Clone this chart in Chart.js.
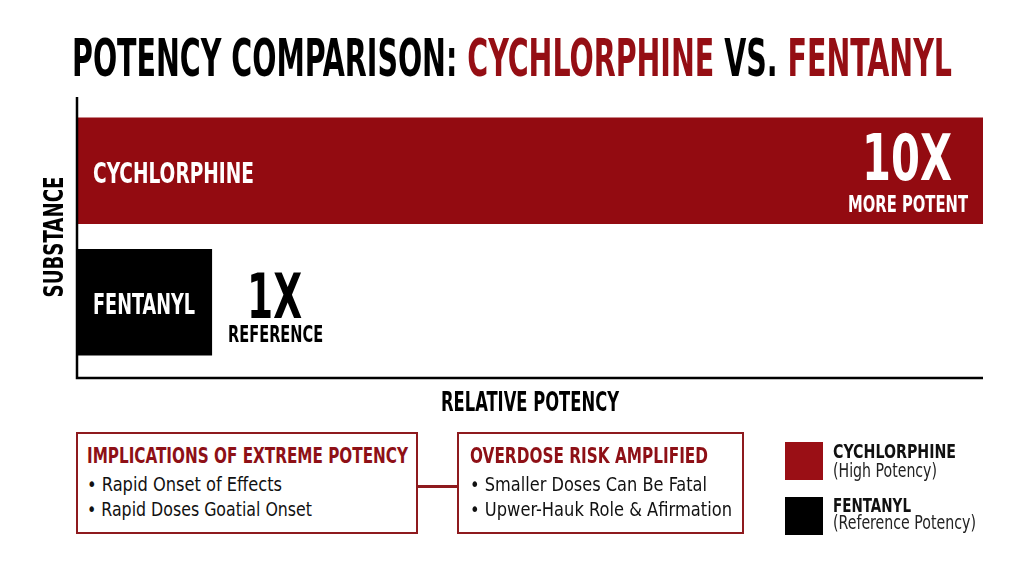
<!DOCTYPE html>
<html><head><meta charset="utf-8">
<script src="https://cdn.jsdelivr.net/npm/chart.js@4"></script>
<style>
html,body{margin:0;padding:0;background:#fff;}
#wrap{position:relative;width:1024px;height:572px;overflow:hidden;font-family:"DejaVu Sans Condensed","DejaVu Sans",sans-serif;}
canvas{position:absolute;left:0;top:0;}
.t{position:absolute;white-space:nowrap;line-height:1;display:inline-block;transform-origin:0 0;}
.red{color:#950e14;}
.box{position:absolute;border:2.5px solid #8e1a1e;box-sizing:border-box;background:#fff;}
.bt{font-weight:bold;font-size:22px;color:#8e1016;}
.bl{font-size:20px;color:#111;}
.leg{position:absolute;width:38px;height:38px;}
</style></head><body>
<div id="wrap">
<canvas id="c" width="1024" height="572"></canvas>
<div class="t" data-w="880" style="left:72px;top:32px;font-size:52px;font-weight:bold;color:#000;">POTENCY COMPARISON: <span class="red">CYCHLORPHINE</span> VS. <span class="red">FENTANYL</span></div>
<div class="box" style="left:76px;top:432px;width:342px;height:102px;"></div>
<div class="abs" style="position:absolute;left:418px;top:485px;width:40px;height:2.5px;background:#8e1a1e;"></div>
<div class="box" style="left:457px;top:432px;width:287px;height:102px;"></div>
<div class="t bt" data-w="321" style="left:87px;top:444.5px;">IMPLICATIONS OF EXTREME POTENCY</div>
<div class="t bl" data-w="195" style="left:87px;top:473.7px;">• Rapid Onset of Effects</div>
<div class="t bl" data-w="225" style="left:87px;top:499.4px;">• Rapid Doses Goatial Onset</div>
<div class="t bt" data-w="238" style="left:470px;top:444.5px;">OVERDOSE RISK AMPLIFIED</div>
<div class="t bl" data-w="237" style="left:470px;top:473.7px;">• Smaller Doses Can Be Fatal</div>
<div class="t bl" data-w="262" style="left:470px;top:499.4px;">• Upwer-Hauk Role &amp; Afirmation</div>
<div class="leg" style="left:785px;top:442px;background:#9a0f15;"></div>
<div class="t" data-w="123" style="left:833px;top:440.7px;font-size:20px;font-weight:bold;color:#111;">CYCHLORPHINE</div>
<div class="t" data-w="104" style="left:833px;top:460.5px;font-size:19px;color:#222;">(High Potency)</div>
<div class="leg" style="left:785px;top:497px;background:#000;"></div>
<div class="t" data-w="78" style="left:833px;top:494.6px;font-size:20px;font-weight:bold;color:#111;">FENTANYL</div>
<div class="t" data-w="143" style="left:833px;top:512px;font-size:20px;color:#222;">(Reference Potency)</div>
</div>
<script>
const categories = ["CYCHLORPHINE", "FENTANYL"];
const potency = [10, 1];
const bigLabels = ["10X", "1X"];
const subLabels = ["MORE POTENT", "REFERENCE"];
const barColors = ["#930b11", "#000000"];
const axisTitleX = "RELATIVE POTENCY";
const axisTitleY = "SUBSTANCE";

const FONT = '"DejaVu Sans Condensed","DejaVu Sans",sans-serif';

document.querySelectorAll('[data-w]').forEach(el => {
  const w = el.getBoundingClientRect().width;
  el.style.transform = 'scaleX(' + (parseFloat(el.dataset.w) / w) + ')';
});

function fitText(ctx, text, x, y, targetW, align) {
  const w = ctx.measureText(text).width;
  const s = targetW / w;
  ctx.save();
  ctx.translate(x, y);
  ctx.scale(s, 1);
  ctx.textAlign = align;
  ctx.fillText(text, 0, 0);
  ctx.restore();
}

const decor = {
  id: 'decor',
  afterDatasetsDraw(chart) {
    const ctx = chart.ctx, a = chart.chartArea;
    const meta = chart.getDatasetMeta(0);
    ctx.save();
    ctx.textBaseline = 'alphabetic';
    // axes
    ctx.strokeStyle = '#000'; ctx.lineWidth = 2.5;
    ctx.beginPath();
    ctx.moveTo(a.left, a.top - 8); ctx.lineTo(a.left, a.bottom + 10); ctx.lineTo(a.right, a.bottom + 10);
    ctx.stroke();
    // axis titles
    ctx.fillStyle = '#000';
    ctx.font = 'bold 26px ' + FONT;
    fitText(ctx, axisTitleX, (a.left + a.right) / 2, a.bottom + 43, 178, 'center');
    ctx.save();
    ctx.translate(63, (a.top + a.bottom) / 2 + 0.5);
    ctx.rotate(-Math.PI / 2);
    ctx.font = 'bold 27px ' + FONT;
    fitText(ctx, axisTitleY, 0, 0, 121, 'center');
    ctx.restore();
    meta.data.forEach((bar, i) => {
      const p = bar.getProps(['x', 'y', 'base', 'height'], true);
      ctx.fillStyle = '#fff';
      ctx.font = 'bold 29px ' + FONT;
      fitText(ctx, categories[i], p.base + 16, p.y + 12, i === 0 ? 161 : 102, 'left');
      if (i === 0) {
        ctx.font = 'bold 64px ' + FONT;
        fitText(ctx, bigLabels[i], p.x - 76, p.y + 9, 90, 'center');
        ctx.font = 'bold 23px ' + FONT;
        fitText(ctx, subLabels[i], p.x - 75, p.y + 41, 120, 'center');
      } else {
        ctx.fillStyle = '#000';
        ctx.font = 'bold 62px ' + FONT;
        fitText(ctx, bigLabels[i], p.x + 62.5, p.y + 15.5, 55, 'center');
        ctx.font = 'bold 23px ' + FONT;
        fitText(ctx, subLabels[i], p.x + 63.5, p.y + 39.5, 95, 'center');
      }
    });
    ctx.restore();
  }
};

new Chart(document.getElementById('c'), {
  type: 'bar',
  data: { labels: categories, datasets: [{ data: potency, backgroundColor: barColors, borderWidth: 0,
    categoryPercentage: 1, barPercentage: 0.81 }] },
  options: {
    indexAxis: 'y', responsive: false, animation: false,
    layout: { padding: { left: 77, right: 41, top: 105, bottom: 204 } },
    plugins: { legend: { display: false }, tooltip: { enabled: false } },
    scales: {
      x: { type: 'logarithmic', min: 0.668, max: 10, display: false },
      y: { type: 'category', display: false }
    }
  },
  plugins: [decor]
});
</script>
</body></html>
